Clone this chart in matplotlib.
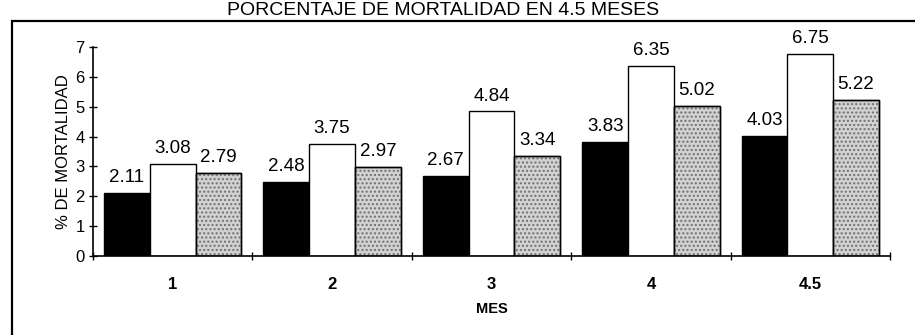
import numpy as np
import matplotlib.pyplot as plt
from matplotlib.patches import Rectangle

plt.rcParams['font.family'] = ['Liberation Sans', 'DejaVu Sans']

meses = ["1", "2", "3", "4", "4.5"]
serie_negra = [2.11, 2.48, 2.67, 3.83, 4.03]
serie_blanca = [3.08, 3.75, 4.84, 6.35, 6.75]
serie_gris = [2.79, 2.97, 3.34, 5.02, 5.22]

fig = plt.figure(figsize=(9.15, 3.35), dpi=100)
ax = fig.add_axes([0.1016, 0.2358, 0.8711, 0.624])

x = np.arange(len(meses))
w = 0.287

b1 = ax.bar(x - w, serie_negra, w, color="black", edgecolor="black", linewidth=1)
b2 = ax.bar(x, serie_blanca, w, color="white", edgecolor="black", linewidth=1)
b3 = ax.bar(x + w, serie_gris, w, color="#d2d2d2", edgecolor="black", linewidth=1)
# textura punteada de las barras grises
ax.bar(x + w, serie_gris, w, fill=False, edgecolor="#707070", hatch="....", linewidth=0)
ax.bar(x + w, serie_gris, w, fill=False, edgecolor="black", linewidth=1)

for bars in (b1, b2, b3):
    for rect in bars:
        h = rect.get_height()
        ax.annotate(f"{h:.2f}", (rect.get_x() + rect.get_width() / 2, h),
                    xytext=(0, 5), textcoords="offset points",
                    ha="center", va="bottom", fontsize=13.5)

ax.set_xlim(-0.5, len(meses) - 0.5)
ax.set_ylim(0, 7)
ax.set_yticks(range(0, 8))
ax.tick_params(axis="y", direction="inout", length=6, width=1, labelsize=12, pad=3)

ax.set_xticks(np.arange(len(meses) + 1) - 0.5)
ax.set_xticklabels([])
ax.set_xticks(x, minor=True)
ax.set_xticklabels(meses, minor=True, fontsize=12, fontweight="bold")
ax.tick_params(axis="x", which="major", direction="inout", length=6, width=1)
ax.tick_params(axis="x", which="minor", length=0, pad=15)

for s in ("top", "right"):
    ax.spines[s].set_visible(False)
ax.spines["left"].set_linewidth(1.2)
ax.spines["bottom"].set_linewidth(1.2)

ax.set_ylabel("% DE MORTALIDAD", fontsize=12, labelpad=3)
ax.set_xlabel("MES", fontsize=10.5, fontweight="bold", labelpad=7)

fig.patches.append(Rectangle((12 / 915, -0.1), 1.0, 1 - 21 / 335 + 0.1,
                             transform=fig.transFigure, fill=False,
                             edgecolor="black", linewidth=1.6))
fig.text(443 / 915, 1 - 15 / 335, "PORCENTAJE DE MORTALIDAD EN 4.5 MESES",
         ha="center", va="baseline", fontsize=14)

fig.savefig("out.png", dpi=100)
